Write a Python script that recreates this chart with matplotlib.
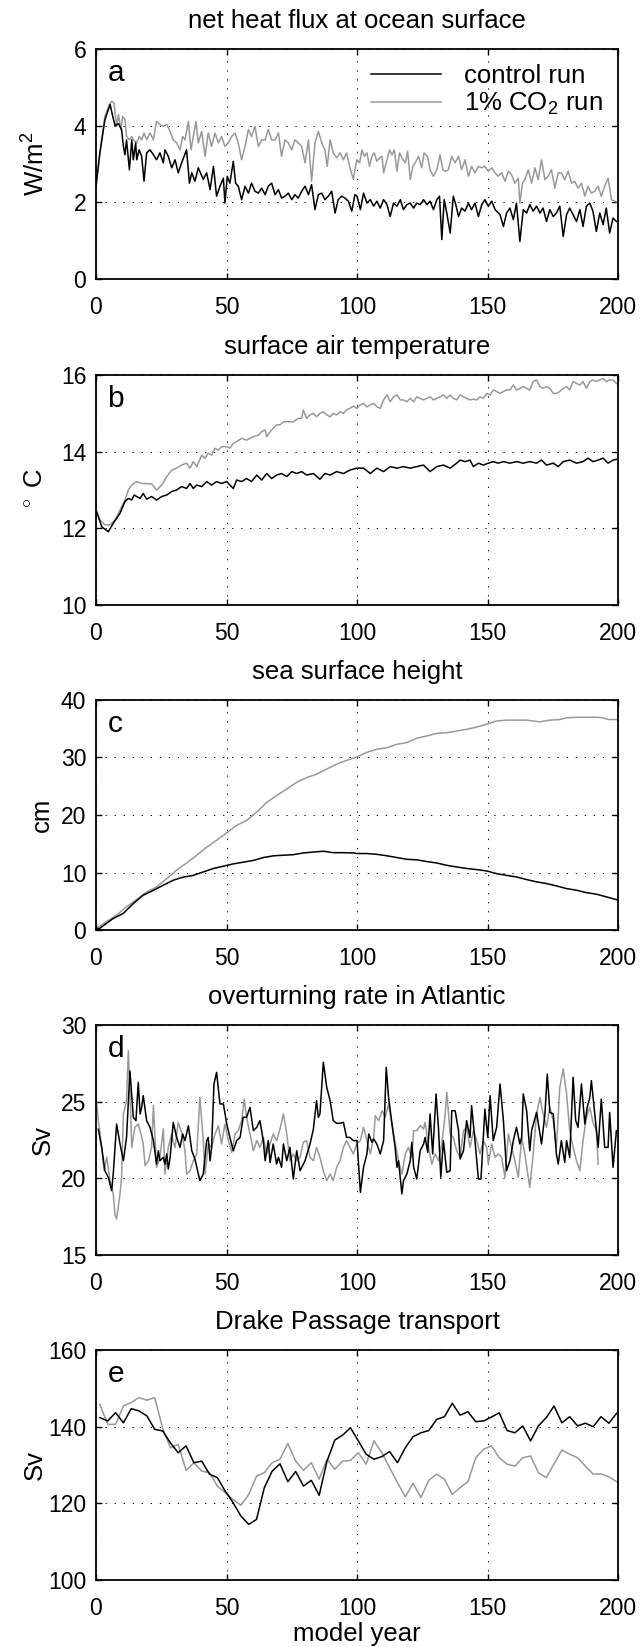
import matplotlib.pyplot as plt
import numpy as np

plt.rcParams.update(
    {
        "font.family": ["Liberation Sans", "DejaVu Sans"],
        "font.size": 16.5,
        "mathtext.fontset": "custom",
        "mathtext.rm": "Liberation Sans",
        "mathtext.it": "Liberation Sans:italic",
        "axes.linewidth": 1.3,
        "xtick.direction": "in",
        "ytick.direction": "in",
        "xtick.top": True,
        "ytick.right": True,
        "xtick.major.size": 4,
        "ytick.major.size": 4,
        "xtick.major.width": 1.0,
        "ytick.major.width": 1.0,
        "xtick.major.pad": 12,
        "ytick.major.pad": 7,
    }
)

CTRL_COLOR = "#000000"
CO2_COLOR = "#999999"

# ---- a: net heat flux (W/m2) ----
a_ctrl_yr = [
    0, 1.5, 3.4, 5.4, 6.4, 7.3, 8.6, 9.8, 10.5, 11.1,
    11.7, 12.8, 13.7, 14.3, 15.2, 15.6, 16.5, 17.5, 18.4, 19.4,
    20.7, 22, 23.2, 24.5, 25.8, 26.4, 27.7, 29, 30.3, 31.5,
    32.8, 34.7, 35.8, 36.7, 37.9, 39.2, 41.1, 42.4, 43.7, 45,
    46.2, 47.5, 48.8, 49.4, 50.3, 51.3, 52.6, 53.5, 54.5, 55.8,
    57.1, 58.4, 59.6, 60.9, 62.2, 63.5, 64.8, 66, 67.3, 68.6,
    69.9, 71.1, 72.4, 73.7, 75, 76.2, 77.5, 78.8, 80.1, 81.4,
    82.6, 83.9, 85.2, 86.5, 87.7, 89, 90.3, 91.6, 92.8, 94.1,
    95.4, 96.7, 98, 99.2,
    100, 101.3, 102.5, 103.8, 105.1, 106.4, 107.6, 108.9, 110.2, 111.5,
    112.7, 114, 115.3, 116.6, 117.8, 119.1, 120.4, 121.7, 122.9, 124.2,
    125.5, 126.8, 128, 129.3, 130.6, 131.6, 132.5, 133.4, 134.4, 135.7,
    136.9, 138, 138.9, 140.1, 141.4, 142.7, 143.9, 145.2, 146.5, 147.8,
    149, 150.3, 151.6, 152.9, 154.8, 156.1, 157.3, 158.6, 159.9, 161.1,
    162.4, 163.7, 165, 166.2, 167.5, 168.8, 170.1, 171.3, 172.6, 173.9,
    175.2, 176.4, 177.7, 179, 180.3, 181.5, 182.8, 184.1, 185.4, 186.6,
    187.9, 189.2, 190.4, 191.7, 193, 194.3, 195.5, 196.8, 198.1, 199.4,
]
a_ctrl = [
    2.42, 3.3, 4.15, 4.55, 4.25, 4.0, 4.05, 3.9, 3.46, 3.24,
    3.63, 2.85, 3.63, 3.11, 3.55, 3.11, 3.37, 3.2, 2.55, 3.29,
    3.37, 3.24, 3.11, 3.29, 3.03, 3.37, 3.2, 2.9, 3.11, 2.77,
    3.03, 3.37, 2.5, 2.77, 2.55, 2.9, 2.6, 2.77, 2.33, 2.94,
    2.16, 2.42, 2.63, 1.98, 2.68, 2.5, 3.07, 2.5, 2.42, 2.07,
    2.42, 2.24, 2.5, 2.29, 2.24, 2.37, 2.2, 2.42, 2.5, 2.2,
    2.33, 2.11, 2.16, 2.24, 2.07, 2.2, 2.11, 2.29, 2.42, 2.2,
    2.46, 1.81, 2.2, 2.24, 2.07, 2.16, 2.29, 1.72, 2.07, 2.16,
    2.11, 2.03, 1.77, 2.2,
    2.16, 1.81, 2.24, 1.98, 2.07, 1.9, 2.03, 1.85, 2.07, 1.94,
    1.63, 1.98, 1.9, 2.07, 1.81, 1.94, 1.98, 1.85, 1.98, 1.94,
    2.07, 1.94, 2.03, 1.81, 2.07, 2.16, 1.03, 2.07, 1.72, 1.2,
    2.16, 1.9, 1.63, 1.85, 1.77, 1.98, 1.81, 1.98, 1.63, 1.94,
    2.07, 1.9, 2.03, 1.81, 1.68, 1.37, 1.72, 1.85, 1.55, 1.98,
    0.98, 1.81, 1.72, 1.94, 1.77, 1.9, 1.72, 1.85, 1.5, 1.81,
    1.63, 1.72, 1.9, 1.11, 1.68, 1.85, 1.68, 1.5, 1.81, 1.37,
    1.9, 1.98, 1.77, 1.24, 1.72, 1.42, 1.85, 1.2, 1.59, 1.5,
]
a_co2_yr = [
    0, 1.5, 3.4, 5.1, 6.0, 6.9, 7.9, 8.6, 9.5, 10.2,
    11.1, 11.7, 12.8, 13.7, 14.3, 15.6, 16.6, 17.5, 18.4, 19.4,
    20.7, 22, 23.2, 24.5, 25.8, 27.1, 28.4, 29.6, 30.9, 32.2,
    33.2, 34.1, 35.4, 36.4, 37.3, 38.3, 39.2, 40.5, 41.8, 43,
    44.3, 45.6, 46.9, 48.1, 49.4, 50.7, 52, 53.3, 54.5, 55.8,
    57.1, 58.4, 59.6, 60.9, 62.2, 63.5, 64.8, 66, 67.3, 68.6,
    69.9, 71.1, 72.4, 73.7, 75, 76.2, 77.5, 78.8, 80.1, 81.4,
    82.6, 83.9, 85.2, 86.5, 87.7, 88.6, 89.7, 90.9, 92.2, 93.5,
    94.8, 96, 97.3, 98.6, 99.9,
    101, 101.9, 102.8, 103.8, 104.8, 105.7, 106.6, 107.6, 108.7, 109.6,
    110.2, 111.5, 112.5, 113.4, 114.3, 115.3, 116.3, 117.2, 118.5, 119.4,
    120.4, 121.4, 122.3, 123.6, 124.8, 125.7, 127, 128, 129.3, 130.6,
    131.8, 132.9, 133.8, 135, 136.3, 137.6, 138.9, 140.1, 141.4, 142.7,
    143.9, 145.2, 146.5, 147.8, 149, 150.3, 151.6, 152.9, 154.1, 155.4,
    156.7, 158, 159.2, 160.5, 161.8, 162.4, 163.4, 164.3, 165.6, 166.9,
    168.2, 169.4, 170.7, 172, 173.2, 174.5, 175.8, 177.1, 178.3, 179.6,
    180.9, 182.2, 183.4, 184.7, 186, 187.3, 188.5, 189.8, 191.1, 192.4,
    193.6, 194.9, 196.2, 197.5, 198.7, 200,
]
a_co2 = [
    2.42, 3.29, 4.24, 4.55, 4.63, 4.59, 3.98, 4.29, 3.9, 4.24,
    4.16, 3.72, 3.63, 3.72, 3.63, 3.55, 3.72, 3.63, 3.81, 3.63,
    3.81, 3.63, 4.11, 4.03, 3.98, 4.03, 3.85, 3.63, 3.55, 3.37,
    3.72, 3.63, 4.11, 3.37, 3.72, 4.11, 3.55, 3.85, 3.2, 3.81,
    3.46, 3.81, 3.55, 3.72, 3.46, 3.55, 3.72, 3.81, 3.55, 3.11,
    3.46, 3.9, 3.72, 3.98, 3.46, 3.63, 3.63, 3.9, 3.63, 3.63,
    3.81, 3.2, 3.63, 3.55, 3.37, 3.63, 3.55, 3.46, 3.03, 3.63,
    2.55, 3.55, 3.85, 3.55, 3.37, 2.94, 3.63, 3.29, 3.16, 3.29,
    3.11, 3.29, 2.9, 2.6, 3.11,
    3.03, 3.37, 3.2, 3.29, 2.94, 3.2, 3.29, 3.07, 3.16, 3.2,
    2.77, 3.11, 3.37, 3.24, 3.37, 2.81, 3.29, 3.16, 3.03, 3.33,
    2.59, 2.94, 3.03, 3.2, 2.9, 3.29, 3.2, 2.85, 2.68, 2.85,
    3.24, 2.85, 2.81, 2.85, 3.2, 3.03, 3.2, 2.85, 3.11, 2.68,
    2.94, 2.77, 2.94, 2.9, 2.94, 2.81, 2.9, 2.77, 2.68, 2.77,
    2.55, 2.81, 2.72, 2.5, 2.63, 1.98, 2.5, 2.59, 2.85, 2.5,
    2.9, 2.59, 3.11, 2.59, 2.68, 2.85, 2.37, 2.77, 2.77, 2.59,
    2.81, 2.5, 2.55, 2.37, 2.5, 2.16, 2.42, 2.24, 2.29, 2.42,
    2.16, 2.42, 2.63, 2.07, 2.03, 2.0,
]

# ---- b: surface air temperature (deg C) ----
b_ctrl_yr = [
    0, 2.2, 4.7, 6.6, 9.2, 11.1, 12.4, 13.7, 14.6, 15.6,
    16.9, 18.1, 19.4, 21.3, 23.2, 25.2, 27.1, 29, 30.9, 32.8,
    34.7, 36, 37.3, 38.6, 40.5, 42.4, 44.3, 46.2, 48.1, 50.1,
    51.3, 52.6, 53.9, 55.8, 57.7, 59.6, 61.6, 63.5, 65.4, 67.3,
    69.2, 71.1, 73.1, 75, 76.9, 78.8, 80.7, 83.3, 85.8, 87.7,
    89.7, 92.2, 94.8, 97.3, 99.9,
    102.5, 105.1, 107.6, 110.2, 112.7, 115.3, 117.8, 120.4, 122.9, 125.5,
    128, 130.6, 133.1, 135.7, 138.2, 139.5, 141.4, 143.3, 144.6, 146.5,
    148.4, 150.3, 152.2, 154.1, 156.1, 158.6, 161.1, 163.7, 166.2, 168.8,
    170.7, 172.6, 175.2, 177.1, 179, 181.5, 184.1, 186.6, 188.5, 190.4,
    192.4, 194.3, 196.2, 198.1, 199.4,
]
b_ctrl = [
    12.48, 12.04, 11.91, 12.13, 12.39, 12.7, 12.78, 12.74, 12.87, 12.83,
    12.78, 12.91, 12.76, 12.83, 12.74, 12.83, 12.87, 12.96, 13.0, 13.09,
    13.04, 13.17, 13.04, 13.13, 13.09, 13.22, 13.13, 13.22, 13.17, 13.22,
    13.13, 13.04, 13.26, 13.22, 13.3, 13.22, 13.39, 13.26, 13.43, 13.3,
    13.39, 13.43, 13.35, 13.48, 13.43, 13.48, 13.39, 13.43, 13.28, 13.43,
    13.39, 13.48, 13.43, 13.52, 13.57,
    13.57, 13.43, 13.57, 13.48, 13.61, 13.57, 13.61, 13.57, 13.61, 13.65,
    13.48, 13.61, 13.65, 13.57, 13.7, 13.78, 13.74, 13.78, 13.61, 13.7,
    13.65, 13.7, 13.74, 13.7, 13.74, 13.7, 13.74, 13.7, 13.74, 13.7,
    13.78, 13.65, 13.7, 13.61, 13.74, 13.78, 13.7, 13.74, 13.83, 13.74,
    13.78, 13.83, 13.7, 13.78, 13.8,
]
b_co2_yr = [
    0, 1.5, 3.4, 5.4, 7.3, 9.2, 11.1, 12.4, 13.7, 15.6,
    17.5, 19.4, 21.3, 23.2, 25.2, 27.1, 29, 30.9, 32.8, 34.7,
    36, 37.3, 38.6, 40.5, 41.8, 43, 44.3, 45.6, 46.9, 48.1,
    50.1, 51.3, 52.6, 53.9, 55.8, 57.7, 59, 60.3, 62.2, 63.5,
    64.8, 65.4, 66.7, 67.9, 69.2, 70.5, 71.8, 73.7, 75.6, 77.5,
    78.8, 79.4, 80.7, 82, 83.3, 84.5, 85.8, 87.1, 88.4, 89.7,
    90.9, 92.2, 93.5, 94.8, 96, 97.3, 98.6, 99.9,
    101.3, 102.5, 103.8, 105.1, 106.4, 107.6, 108.9, 110.2, 111.5, 112.7,
    114, 115.3, 116.6, 117.8, 119.1, 120.4, 121.7, 122.9, 124.2, 125.5,
    126.8, 128, 129.3, 130.6, 131.8, 133.1, 134.4, 135.7, 136.9, 138.2,
    139.5, 140.8, 142, 143.3, 144.6, 145.9, 147.1, 148.4, 149.7, 151,
    152.2, 153.5, 154.8, 156.1, 157.3, 158.6, 159.9, 161.1, 162.4, 163.7,
    165, 166.2, 167.5, 168.8, 170.1, 171.3, 172.6, 173.9, 175.2, 176.4,
    177.7, 179, 180.3, 181.5, 182.8, 184.1, 185.4, 186.6, 187.9, 189.2,
    190.4, 191.7, 193, 194.3, 195.5, 196.8, 198.1, 199.4,
]
b_co2 = [
    12.48, 12.22, 12.09, 12.09, 12.22, 12.48, 12.74, 13.0, 13.13, 13.22,
    13.17, 13.17, 13.16, 13.0, 13.13, 13.35, 13.52, 13.57, 13.65, 13.7,
    13.57, 13.74, 13.61, 13.91, 13.83, 13.96, 13.91, 14.09, 14.04, 14.13,
    14.13, 14.09, 14.22, 14.26, 14.35, 14.3, 14.35, 14.39, 14.43, 14.52,
    14.57, 14.39, 14.52, 14.61, 14.7, 14.7, 14.78, 14.78, 14.78, 14.87,
    14.87, 15.09, 14.87, 14.96, 15.0, 14.91, 15.0, 15.04, 14.96, 14.91,
    15.0, 14.96, 15.04, 15.0, 15.09, 15.13, 15.19, 15.13,
    15.22, 15.26, 15.17, 15.22, 15.26, 15.17, 15.13, 15.35, 15.48, 15.3,
    15.43, 15.48, 15.35, 15.35, 15.3, 15.39, 15.3, 15.43, 15.39, 15.35,
    15.39, 15.43, 15.35, 15.39, 15.43, 15.48, 15.39, 15.48, 15.39, 15.35,
    15.48, 15.43, 15.39, 15.35, 15.37, 15.35, 15.43, 15.39, 15.52, 15.48,
    15.61, 15.57, 15.52, 15.57, 15.61, 15.61, 15.74, 15.61, 15.65, 15.7,
    15.65, 15.61, 15.83, 15.87, 15.7, 15.65, 15.7, 15.65, 15.52, 15.52,
    15.57, 15.65, 15.7, 15.61, 15.83, 15.78, 15.74, 15.83, 15.65, 15.83,
    15.87, 15.83, 15.87, 15.91, 15.83, 15.87, 15.87, 15.78,
]

# ---- c: sea surface height (cm) ----
c_ctrl_yr = [
    0, 1.5, 4, 6.6, 10.5, 14.3, 18.1, 22, 25.8, 29.6,
    33.5, 37.3, 41.1, 45, 48.8, 52.6, 56.5, 60.3, 64.1, 68,
    71.8, 75.6, 79.4, 83.3, 87.1, 90.9, 94.8, 98.6, 100, 103.8,
    107.6, 111.5, 115.3, 119.1, 122.9, 126.8, 130.6, 134.4, 138.2, 142,
    145.9, 149.7, 153.5, 157.3, 161.1, 165, 168.8, 172.6, 176.4, 180.3,
    184.1, 187.9, 191.7, 195.5, 200,
]
c_ctrl = [
    0.2, 0.3, 1.15, 2.0, 2.9, 4.6, 6.06, 6.9, 7.8, 8.66,
    9.2, 9.5, 10.1, 10.7, 11.1, 11.5, 11.8, 12.1, 12.6, 12.9,
    13.0, 13.1, 13.4, 13.56, 13.7, 13.45, 13.45, 13.4, 13.3, 13.3,
    13.16, 12.9, 12.6, 12.3, 12.2, 11.9, 11.65, 11.25, 10.96, 10.7,
    10.5, 10.27, 9.8, 9.5, 9.23, 8.77, 8.37, 8.08, 7.67, 7.2,
    6.92, 6.5, 6.23, 5.77, 5.2,
]
c_co2_yr = [
    0, 4, 7.9, 11.7, 15.6, 19.4, 23.2, 27, 30.9, 34.7,
    38.6, 42.4, 46.2, 50, 53.9, 57.7, 61.6, 65.4, 69.3, 73,
    76.9, 80.7, 84.5, 88.4, 92.2, 96, 100, 103.8, 107.6, 111.5,
    115.3, 119.1, 122.9, 126.8, 130.6, 134.4, 138.2, 142, 145.9, 149.7,
    153.5, 157.3, 161.1, 165, 170, 173.9, 177.7, 180.3, 184.1, 187.9,
    191.7, 194.3, 196.2, 200,
]
c_co2 = [
    0.2, 1.44, 2.6, 4.04, 5.3, 6.6, 7.5, 8.9, 10.4, 11.65,
    13.0, 14.4, 15.6, 16.85, 18.2, 19.04, 20.5, 22.2, 23.4, 24.5,
    25.7, 26.5, 27.1, 28.0, 28.85, 29.5, 30.1, 30.9, 31.45, 31.7,
    32.3, 32.6, 33.35, 33.75, 34.2, 34.3, 34.6, 34.9, 35.3, 35.8,
    36.35, 36.5, 36.5, 36.5, 36.2, 36.5, 36.6, 36.9, 37.0, 37.0,
    37.0, 36.9, 36.6, 36.6,
]

# ---- d: Atlantic overturning (Sv) ----
d_ctrl_yr = [
    0.9, 2.2, 3.4, 4.7, 6.0, 6.6, 7.9, 9.2, 10.5, 11.7,
    13.0, 14.3, 15.3, 16.2, 16.9, 17.5, 18.1, 19.4, 20.7, 22.0,
    23.2, 23.9, 24.5, 25.8, 26.4, 27.1, 27.7, 28.4, 29.6, 30.9,
    32.2, 33.2, 34.1, 35.4, 36.7, 37.9, 39.8, 41.1, 42.4, 43.0,
    43.7, 44.3, 45.2, 46.2, 47.5, 48.8, 50.1, 51.3, 52.6, 53.9,
    55.2, 56.4, 57.7, 59.0, 60.3, 61.6, 62.8, 64.1, 64.8, 66.0,
    66.7, 67.9, 69.2, 69.9, 71.1, 71.8, 73.1, 74.3, 75.6, 76.9,
    78.2, 80.1, 82.0, 83.3, 84.5, 85.2, 85.8, 87.1, 88.4, 89.7,
    90.9, 92.2, 93.5, 94.8, 96.0, 97.3, 98.6,
    100.0, 101.3, 102.5, 103.8, 104.5, 105.7, 106.4, 107.6, 108.9, 110.2,
    111.2, 112.1, 113.4, 114.6, 115.3, 115.9, 117.2, 117.8, 119.1, 120.4,
    121.0, 121.7, 122.9, 124.2, 125.5, 126.1, 127.1, 128.0, 129.0, 130.3,
    131.2, 132.1, 133.1, 134.4, 135.7, 136.3, 137.6, 138.9, 139.5, 140.8,
    142.0, 143.3, 143.9, 145.2, 146.5, 147.5, 149.0, 150.1, 151.0, 152.2,
    153.5, 154.8, 156.1, 157.3, 158.6, 159.9, 161.1, 162.4, 163.1, 163.7,
    165.0, 166.2, 166.9, 168.8, 170.7, 172.0, 172.9, 173.9, 175.2, 176.4,
    177.1, 178.3, 179.6, 180.3, 181.5, 182.8, 183.8, 184.7, 186.0, 187.3,
    188.2, 189.2, 189.8, 191.1, 192.4, 193.6, 194.9, 196.2, 196.8, 198.1,
    199.4,
]
d_ctrl = [
    23.2, 22.0, 20.5, 20.07, 19.2, 20.28, 23.54, 22.24, 21.15, 22.67,
    27.0, 23.98, 23.76, 26.26, 24.2, 24.63, 25.39, 23.76, 23.33, 22.46,
    20.93, 21.8, 21.15, 21.37, 20.93, 21.59, 20.61, 21.37, 23.65, 22.67,
    22.02, 22.89, 22.46, 23.43, 21.8, 21.26, 19.85, 20.28, 22.46, 22.67,
    21.15, 22.02, 26.15, 26.91, 24.85, 24.85, 23.54, 22.67, 21.8, 22.46,
    22.67, 23.98, 23.98, 24.63, 23.11, 23.33, 23.76, 22.46, 21.15, 22.46,
    21.04, 22.24, 20.93, 21.37, 20.72, 22.24, 21.15, 22.02, 19.96, 21.8,
    20.5, 21.15, 22.24, 23.22, 25.07, 23.98, 24.2, 27.57, 25.93, 25.07,
    23.76, 23.59, 23.59, 23.65, 22.67, 22.67, 22.46,
    22.46, 19.09, 20.72, 21.59, 22.89, 22.35, 22.57, 22.24, 21.59, 22.46,
    27.24, 25.28, 23.54, 22.02, 20.72, 21.15, 18.98, 19.85, 20.28, 21.15,
    22.35, 20.72, 19.96, 21.8, 22.24, 22.67, 21.7, 24.2, 21.59, 25.5,
    23.33, 20.07, 22.46, 20.39, 20.5, 24.41, 24.41, 23.11, 21.26, 21.8,
    23.76, 22.67, 24.74, 22.46, 19.96, 19.96, 24.52, 22.67, 25.39, 22.46,
    23.33, 26.15, 23.76, 20.5, 21.15, 22.46, 23.33, 22.24, 22.67, 25.5,
    24.41, 21.8, 23.11, 24.3, 22.24, 24.2, 26.8, 24.3, 24.2, 21.59,
    20.93, 22.46, 21.04, 22.46, 21.37, 26.59, 23.76, 23.33, 26.15, 23.54,
    24.63, 25.28, 26.37, 24.2, 22.02, 25.17, 22.02, 22.02, 24.3, 20.72,
    23.11,
]
d_co2_yr = [
    0.0, 0.9, 2.2, 3.1, 4.1, 5.4, 6.6, 7.3, 7.9, 9.2,
    9.8, 10.5, 11.7, 12.4, 13.0, 13.7, 14.9, 16.2, 16.9, 18.1,
    18.8, 20.1, 21.3, 22.0, 23.2, 24.5, 25.8, 26.4, 27.7, 29.0,
    29.6, 30.3, 31.5, 32.8, 34.1, 34.7, 36.0, 37.3, 38.6, 39.8,
    41.1, 41.8, 43.0, 44.3, 45.6, 46.9, 48.1, 49.4, 50.7, 52.0,
    53.3, 54.5, 55.8, 56.8, 57.7, 59.0, 60.3, 61.6, 62.8, 64.1,
    65.4, 66.7, 67.9, 69.2, 70.5, 71.8, 73.1, 74.3, 75.6, 76.9,
    78.2, 79.4, 80.7, 82.0, 83.3, 84.5, 85.8, 87.1, 88.4, 89.7,
    90.9, 92.2, 93.5, 94.8, 96.0, 97.3, 98.6, 99.9,
    101.3, 102.5, 103.8, 105.1, 106.4, 107.0, 108.3, 109.6, 110.8, 112.1,
    113.4, 114.6, 115.9, 117.2, 118.5, 119.7, 121.0, 121.7, 122.9, 124.2,
    125.5, 126.1, 127.4, 128.7, 129.9, 131.2, 132.5, 133.8, 134.4, 135.7,
    136.9, 138.2, 139.5, 140.8, 142.0, 143.3, 144.6, 145.9, 147.1, 148.4,
    149.7, 150.3, 151.6, 152.9, 154.1, 155.4, 156.7, 158.0, 159.2, 160.5,
    161.8, 163.1, 164.3, 165.6, 166.2, 167.5, 168.8, 170.1, 171.3, 172.6,
    173.9, 175.2, 176.4, 177.7, 179.0, 180.3, 181.5, 182.8, 184.1, 185.4,
    186.6, 187.9, 189.2, 190.4, 191.7, 192.4,
]
d_co2 = [
    25.39, 23.76, 22.02, 20.5, 21.37, 19.85, 18.98, 17.57, 17.35, 18.98,
    20.07, 24.2, 25.07, 28.33, 25.72, 22.02, 23.33, 23.54, 23.11, 22.24,
    20.83, 21.15, 22.02, 24.74, 20.72, 21.37, 23.22, 20.28, 22.02, 22.89,
    22.35, 22.02, 23.65, 23.0, 21.8, 20.28, 20.5, 21.15, 21.59, 25.28,
    22.46, 20.28, 22.24, 22.02, 22.89, 23.43, 22.24, 23.54, 22.46, 21.7,
    22.89, 23.11, 23.76, 25.17, 23.98, 22.89, 21.8, 22.46, 22.02, 22.67,
    21.59, 22.24, 22.89, 22.46, 23.22, 24.2, 22.89, 21.15, 21.59, 21.15,
    21.37, 22.35, 22.46, 21.37, 21.15, 22.02, 21.37, 20.5, 19.85, 20.28,
    19.85, 20.72, 21.15, 22.02, 22.46, 22.02, 21.59, 22.24,
    22.46, 23.33, 22.46, 21.59, 22.67, 24.09, 23.76, 24.41, 23.98, 24.85,
    23.54, 22.35, 21.15, 20.28, 21.59, 22.02, 21.37, 23.11, 23.11, 23.43,
    23.22, 23.65, 22.02, 20.93, 21.59, 21.15, 22.24, 24.2, 25.61, 22.89,
    22.67, 21.8, 21.37, 23.11, 23.33, 22.02, 23.11, 22.46, 21.59, 22.46,
    22.02, 20.93, 22.24, 21.37, 21.59, 21.37, 20.07, 22.89, 22.02, 21.15,
    20.07, 22.67, 21.59, 20.07, 19.41, 21.59, 24.2, 25.28, 24.2, 23.33,
    24.63, 23.76, 22.02, 25.93, 27.13, 25.5, 23.11, 22.02, 21.15, 20.5,
    22.46, 23.98, 24.63, 23.65, 23.11, 20.93,
]

# ---- e: Drake Passage transport (Sv), 3-year samples ----
e_years = np.arange(1.5, 200, 3)
e_ctrl = [
    142.35, 141.5, 143.65, 141.0, 144.7, 144.1, 142.8, 139.3, 138.9, 135.8,
    133.2, 135.0, 130.6, 131.0, 127.6, 126.7, 123.2, 120.2, 116.7, 114.5,
    115.8, 124.1, 128.4, 130.3, 125.65, 128.3, 124.5, 126.0, 122.1, 131.0,
    136.5, 137.8,
    139.7, 136.3, 132.8, 131.5, 132.2, 133.5, 130.6, 134.5, 137.4, 138.4,
    139.0, 141.9, 142.6, 146.1, 143.0, 143.9, 141.3, 141.5, 142.5, 143.6,
    139.0, 138.4, 140.2, 136.3, 140.2, 142.35, 145.4, 141.0, 142.6, 140.2,
    140.9, 140.0, 142.6, 140.9, 143.5,
]
e_co2 = [
    145.8, 140.6, 140.6, 145.4, 146.3, 147.6, 146.9, 147.6, 139.7, 134.5,
    135.4, 128.6, 130.6, 128.4, 128.0, 124.5, 122.8, 121.0, 119.5, 122.3,
    127.1, 128.0, 130.6, 131.5, 135.6, 131.0, 128.6, 130.6, 126.3, 131.5,
    128.9, 131.0,
    131.2, 133.2, 130.2, 136.3, 133.2, 129.3, 125.4, 121.7, 125.2, 121.5,
    126.0, 127.6, 126.3, 122.3, 124.1, 125.65, 131.9, 134.1, 135.0, 131.9,
    130.2, 129.7, 131.9, 132.35, 128.0, 126.7, 130.3, 133.9, 132.8, 131.9,
    129.7, 127.6, 127.7, 126.9, 125.65,
]

x_ticks = [0, 50, 100, 150, 200]

panels = [
    ("a", "net heat flux at ocean surface", "W/m$^2$", (0, 6), [0, 2, 4, 6],
     (a_ctrl_yr, a_ctrl), (a_co2_yr, a_co2)),
    ("b", "surface air temperature", "$^\\circ$ C", (10, 16), [10, 12, 14, 16],
     (b_ctrl_yr, b_ctrl), (b_co2_yr, b_co2)),
    ("c", "sea surface height", "cm", (0, 40), [0, 10, 20, 30, 40],
     (c_ctrl_yr, c_ctrl), (c_co2_yr, c_co2)),
    ("d", "overturning rate in Atlantic", "Sv", (15, 30), [15, 20, 25, 30],
     (d_ctrl_yr, d_ctrl), (d_co2_yr, d_co2)),
    ("e", "Drake Passage transport", "Sv", (100, 160), [100, 120, 140, 160],
     (e_years, e_ctrl), (e_years, e_co2)),
]

# x of each y-label's right edge, in axes fraction (MATLAB-like fixed spot)
ylabel_x = [-0.088, -0.094, -0.080, -0.079, -0.094]

W, H = 642, 1647
fig = plt.figure(figsize=(W / 100, H / 100), dpi=100)

left = 96 / W
width = (618 - 96) / W
height = 230 / H
tops = [49, 375, 700, 1025, 1350]

for i, (letter, title, ylab, ylim, yticks, ctrl, co2) in enumerate(panels):
    bottom = 1 - (tops[i] + 230) / H
    ax = fig.add_axes([left, bottom, width, height])

    l1, = ax.plot(ctrl[0], ctrl[1], color=CTRL_COLOR, lw=1.1, label="control run")
    l2, = ax.plot(co2[0], co2[1], color=CO2_COLOR, lw=1.1, label="1% CO$_2$ run")
    # keep the control run on top like the original
    l1.set_zorder(3)

    ax.set_xlim(0, 200)
    ax.set_ylim(*ylim)
    ax.set_xticks(x_ticks)
    ax.set_yticks(yticks)
    ax.grid(True, color="black", linestyle=(0, (1.3, 8)), linewidth=0.7)
    ax.set_title(title, fontsize=18.5, pad=15)
    ax.set_ylabel(ylab, fontsize=18.5)
    ax.yaxis.set_label_coords(ylabel_x[i], 0.5)
    ax.text(0.022, 0.955, letter, transform=ax.transAxes, fontsize=21.5,
            ha="left", va="top")

    if i == 0:
        ax.legend(handles=[l1, l2], loc="upper right", frameon=False,
                  fontsize=18.5, handlelength=2.7, handletextpad=0.9,
                  labelspacing=0.1, borderaxespad=0.2)
    if i == len(panels) - 1:
        ax.set_xlabel("model year", fontsize=18.5, labelpad=2)

fig.savefig("out.png", dpi=100)
